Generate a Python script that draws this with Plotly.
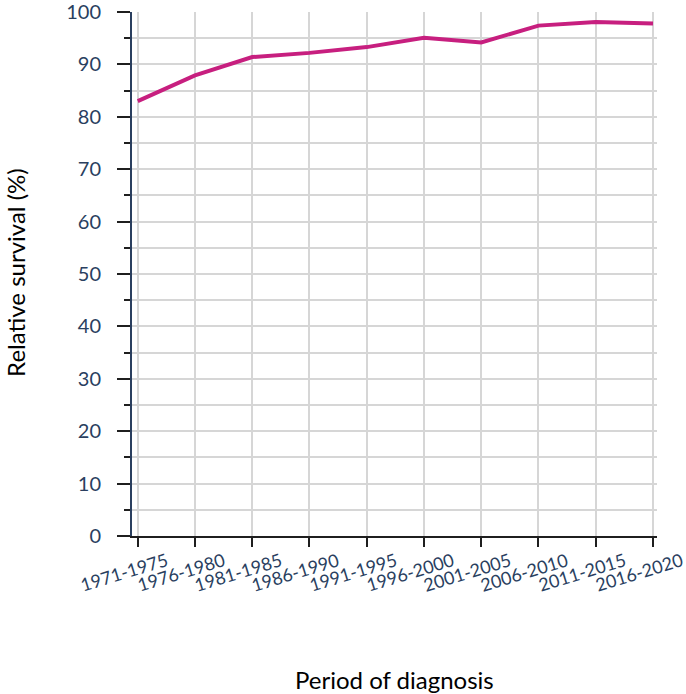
import plotly.graph_objects as go

periods = ["1971-1975", "1976-1980", "1981-1985", "1986-1990", "1991-1995",
           "1996-2000", "2001-2005", "2006-2010", "2011-2015", "2016-2020"]
survival = [83.0, 87.9, 91.4, 92.2, 93.3, 95.1, 94.2, 97.4, 98.1, 97.8]
y_ticks = [0, 10, 20, 30, 40, 50, 60, 70, 80, 90, 100]

FONT = "Lato"
TICKC = "#2a3f5f"
GRID = "#d6d6d6"
DARK = "#1f1f1f"

fig = go.Figure()
fig.add_trace(go.Scatter(
    x=list(range(len(periods))), y=survival, mode="lines",
    line=dict(color="#c71f7f", width=4),
    hoverinfo="skip", showlegend=False,
))

# x tick labels as rotated annotations (centred slightly left of tick)
for i, p in enumerate(periods):
    fig.add_annotation(
        x=i, y=0, xref="x", yref="y", text=p, showarrow=False,
        textangle=-17, xanchor="center", yanchor="top",
        xshift=-14, yshift=-10,
        font=dict(family=FONT, size=18, color=TICKC),
    )

fig.add_annotation(
    x=0.5, y=-0.273, xref="paper", yref="paper", text="Period of diagnosis",
    showarrow=False, xanchor="center", yanchor="middle",
    font=dict(family=FONT, size=24, color="black"),
)
fig.add_annotation(
    x=-0.222, y=0.503, xref="paper", yref="paper", text="Relative survival (%)",
    showarrow=False, xanchor="center", yanchor="middle", textangle=-90,
    font=dict(family=FONT, size=24, color="black"),
)

fig.update_layout(
    width=686, height=694,
    margin=dict(l=132, r=29, t=12, b=158),
    plot_bgcolor="white", paper_bgcolor="white",
    font=dict(family=FONT, size=18, color=TICKC),
)
fig.update_xaxes(
    range=[-0.1, 9.07], automargin=False,
    tickmode="array", tickvals=list(range(len(periods))), showticklabels=False,
    showgrid=True, gridcolor=GRID, gridwidth=2,
    showline=True, linecolor=DARK, linewidth=2,
    ticks="outside", ticklen=9, tickwidth=2, tickcolor=DARK,
    zeroline=False,
)
fig.update_yaxes(
    range=[0, 100], automargin=False,
    tickmode="array", tickvals=y_ticks,
    showgrid=True, gridcolor=GRID, gridwidth=2,
    showline=True, linecolor=TICKC, linewidth=2,
    ticks="outside", ticklen=13, tickwidth=2, tickcolor=DARK,
    ticklabelstandoff=12, ticklabeloverflow="allow",
    tickfont=dict(family=FONT, size=20, color=TICKC),
    minor=dict(dtick=5, tick0=0, ticks="outside", ticklen=6, tickwidth=2,
               tickcolor=DARK, showgrid=True, gridcolor=GRID, gridwidth=2),
    zeroline=False,
)

# remove the default 8px body margin so the figure sits at the page origin
fig.write_html("out.html", config={"displayModeBar": False},
               post_script="document.body.style.margin='0';")
